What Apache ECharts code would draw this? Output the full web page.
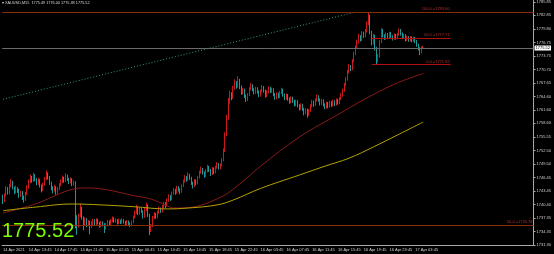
<!DOCTYPE html>
<html><head><meta charset="utf-8">
<script src="https://cdn.jsdelivr.net/npm/echarts@6/dist/echarts.min.js"></script>
<style>html,body{margin:0;padding:0;background:#000;}#c{width:554px;height:254px;}</style>
</head><body><div id="c"></div>
<script>
const symbolName = 'XAUUSD,M15';
const timeLabels = ['14 Apr 2021','14 Apr 13:45','14 Apr 17:45','14 Apr 21:45','15 Apr 02:45','15 Apr 06:45','15 Apr 10:45','15 Apr 14:45','15 Apr 18:45','15 Apr 22:45','16 Apr 03:45','16 Apr 07:45','16 Apr 11:45','16 Apr 15:45','16 Apr 19:45','16 Apr 23:45','17 Apr 03:45'];
const barsPerLabel = 16;
const slotCount = 330;
const priceTicks = [1731.30,1734.35,1737.35,1740.40,1743.45,1746.45,1749.50,1752.50,1755.55,1758.60,1761.60,1764.60,1767.65,1770.70,1773.75,1776.75,1779.80,1782.85,1785.85];
const opens = [
1742.0,1741.2,1742.5,1743.8,1743.0,1744.6,1745.3,1744.1,1743.2,1744.0,
1743.5,1742.4,1743.1,1742.0,1741.5,1742.8,1744.2,1745.6,1746.4,1745.8,
1746.9,1746.0,1745.1,1745.9,1744.6,1743.7,1744.9,1746.2,1747.3,1746.5,
1745.2,1744.1,1743.6,1744.2,1743.1,1743.9,1744.8,1745.5,1746.3,1745.7,
1746.8,1746.1,1745.4,1746.0,1744.9,1745.3,1737.5,1735.6,1737.8,1739.6,
1737.4,1736.2,1737.0,1735.8,1736.4,1735.4,1736.1,1736.8,1736.0,1736.9,
1736.2,1735.6,1736.3,1735.9,1735.1,1735.8,1736.5,1736.0,1736.7,1737.3,
1736.6,1736.9,1736.2,1736.8,1736.3,1736.9,1736.4,1735.9,1736.5,1736.1,
1735.7,1736.4,1737.5,1738.6,1739.6,1738.4,1739.3,1738.9,1737.6,1739.2,
1740.1,1738.0,1734.8,1735.6,1737.4,1738.2,1737.6,1738.6,1739.4,1738.9,
1739.8,1740.6,1740.1,1741.3,1742.2,1741.6,1742.9,1743.6,1743.0,1744.2,
1743.7,1743.2,1744.5,1745.6,1746.5,1745.9,1747.0,1746.3,1745.2,1744.5,
1745.7,1745.1,1746.4,1747.6,1748.3,1747.5,1746.8,1747.9,1748.8,1748.1,
1747.2,1748.4,1747.6,1748.7,1749.4,1748.6,1749.2,1750.3,1752.5,1756.0,
1759.8,1763.6,1765.2,1764.4,1766.5,1767.8,1766.9,1768.3,1766.8,1765.4,
1766.1,1764.8,1763.9,1765.0,1766.3,1767.1,1766.2,1765.5,1766.4,1765.7,
1764.9,1765.8,1766.7,1765.9,1764.8,1765.6,1766.5,1765.8,1766.2,1765.1,
1764.3,1765.2,1764.6,1765.5,1766.1,1765.0,1764.2,1764.9,1764.1,1763.4,
1764.3,1763.6,1762.8,1763.5,1762.6,1761.9,1762.7,1761.8,1760.9,1761.6,
1760.6,1761.4,1762.5,1763.4,1762.7,1763.8,1764.6,1763.9,1763.0,1763.7,
1762.8,1762.2,1763.1,1762.4,1763.3,1762.7,1763.5,1762.9,1763.8,1763.2,
1764.1,1764.9,1766.0,1767.3,1768.5,1770.1,1771.4,1770.8,1772.6,1774.2,
1775.6,1776.8,1778.1,1777.4,1778.9,1778.2,1779.3,1781.0,1782.4,1779.0,
1776.6,1778.2,1775.5,1772.9,1773.6,1776.9,1779.5,1778.3,1777.7,1778.6,
1777.9,1778.8,1778.1,1777.6,1778.4,1777.8,1778.5,1779.6,1778.7,1777.9,
1778.3,1777.4,1777.9,1777.3,1777.8,1777.2,1777.7,1777.0,1776.2,1775.4,
1774.6,1775.49];
const closes = [
1741.2,1742.5,1743.8,1743.0,1744.6,1745.3,1744.1,1743.2,1744.0,1743.5,
1742.4,1743.1,1742.0,1741.5,1742.8,1744.2,1745.6,1746.4,1745.8,1746.9,
1746.0,1745.1,1745.9,1744.6,1743.7,1744.9,1746.2,1747.3,1746.5,1745.2,
1744.1,1743.6,1744.2,1743.1,1743.9,1744.8,1745.5,1746.3,1745.7,1746.8,
1746.1,1745.4,1746.0,1744.9,1745.3,1737.5,1735.6,1737.8,1739.6,1737.4,
1736.2,1737.0,1735.8,1736.4,1735.4,1736.1,1736.8,1736.0,1736.9,1736.2,
1735.6,1736.3,1735.9,1735.1,1735.8,1736.5,1736.0,1736.7,1737.3,1736.6,
1736.9,1736.2,1736.8,1736.3,1736.9,1736.4,1735.9,1736.5,1736.1,1735.7,
1736.4,1737.5,1738.6,1739.6,1738.4,1739.3,1738.9,1737.6,1739.2,1740.1,
1738.0,1734.8,1735.6,1737.4,1738.2,1737.6,1738.6,1739.4,1738.9,1739.8,
1740.6,1740.1,1741.3,1742.2,1741.6,1742.9,1743.6,1743.0,1744.2,1743.7,
1743.2,1744.5,1745.6,1746.5,1745.9,1747.0,1746.3,1745.2,1744.5,1745.7,
1745.1,1746.4,1747.6,1748.3,1747.5,1746.8,1747.9,1748.8,1748.1,1747.2,
1748.4,1747.6,1748.7,1749.4,1748.6,1749.2,1750.3,1752.5,1756.0,1759.8,
1763.6,1765.2,1764.4,1766.5,1767.8,1766.9,1768.3,1766.8,1765.4,1766.1,
1764.8,1763.9,1765.0,1766.3,1767.1,1766.2,1765.5,1766.4,1765.7,1764.9,
1765.8,1766.7,1765.9,1764.8,1765.6,1766.5,1765.8,1766.2,1765.1,1764.3,
1765.2,1764.6,1765.5,1766.1,1765.0,1764.2,1764.9,1764.1,1763.4,1764.3,
1763.6,1762.8,1763.5,1762.6,1761.9,1762.7,1761.8,1760.9,1761.6,1760.6,
1761.4,1762.5,1763.4,1762.7,1763.8,1764.6,1763.9,1763.0,1763.7,1762.8,
1762.2,1763.1,1762.4,1763.3,1762.7,1763.5,1762.9,1763.8,1763.2,1764.1,
1764.9,1766.0,1767.3,1768.5,1770.1,1771.4,1770.8,1772.6,1774.2,1775.6,
1776.8,1778.1,1777.4,1778.9,1778.2,1779.3,1781.0,1782.4,1779.0,1776.6,
1778.2,1775.5,1772.9,1773.6,1776.9,1779.5,1778.3,1777.7,1778.6,1777.9,
1778.8,1778.1,1777.6,1778.4,1777.8,1778.5,1779.6,1778.7,1777.9,1778.3,
1777.4,1777.9,1777.3,1777.8,1777.2,1777.7,1777.0,1776.2,1775.4,1774.6,
1775.49,1775.52];
const highs = [
1742.6,1742.9,1744.5,1744.3,1745.0,1746.1,1745.7,1744.4,1744.6,1744.3,
1743.9,1743.5,1743.4,1742.4,1743.2,1744.7,1746.0,1747.1,1746.8,1747.5,
1747.2,1746.3,1746.4,1746.1,1744.9,1745.3,1746.6,1748.0,1747.6,1746.8,
1745.5,1744.5,1744.8,1744.5,1744.3,1745.2,1746.0,1746.9,1746.6,1747.4,
1747.1,1746.4,1746.5,1746.3,1745.8,1745.6,1738.0,1738.3,1740.5,1739.9,
1737.7,1737.5,1737.3,1736.9,1736.7,1736.6,1737.2,1737.1,1737.3,1737.2,
1736.5,1736.7,1736.6,1736.2,1736.2,1736.9,1736.8,1737.1,1737.7,1737.5,
1737.3,1737.1,1737.2,1737.0,1737.3,1737.1,1736.7,1736.9,1736.8,1736.4,
1736.8,1737.9,1739.0,1740.3,1739.9,1739.7,1739.6,1739.1,1739.6,1740.8,
1740.4,1738.3,1736.0,1737.8,1738.7,1738.5,1739.0,1739.9,1739.7,1740.3,
1741.0,1740.9,1741.7,1742.7,1742.5,1743.3,1744.1,1743.9,1744.6,1744.5,
1744.0,1744.9,1746.0,1747.0,1746.8,1747.6,1747.3,1746.6,1745.5,1746.1,
1746.0,1746.8,1748.0,1748.9,1748.6,1747.8,1748.3,1749.3,1749.1,1748.4,
1748.8,1748.7,1749.1,1749.9,1749.7,1749.6,1750.8,1753.0,1756.6,1760.5,
1764.3,1765.9,1765.6,1767.0,1768.5,1768.1,1769.2,1768.6,1767.1,1766.6,
1766.4,1765.1,1765.4,1766.7,1767.7,1767.4,1766.5,1766.8,1766.7,1766.0,
1766.2,1767.2,1767.0,1766.2,1766.0,1766.9,1766.8,1766.6,1766.5,1765.4,
1765.6,1765.5,1765.9,1766.6,1766.4,1765.3,1765.3,1765.2,1764.4,1764.7,
1764.6,1763.9,1763.9,1763.8,1762.9,1763.1,1763.0,1762.1,1762.0,1761.9,
1761.8,1762.9,1763.9,1763.7,1764.2,1765.1,1764.9,1764.2,1764.1,1764.0,
1763.1,1763.5,1763.4,1763.7,1763.6,1763.9,1763.8,1764.2,1764.1,1764.5,
1765.4,1766.4,1767.7,1769.0,1770.6,1771.9,1771.7,1773.0,1774.7,1776.1,
1777.4,1778.7,1778.4,1779.3,1779.2,1779.8,1781.5,1783.6,1783.0,1779.4,
1778.7,1778.5,1775.8,1774.1,1777.3,1780.0,1779.8,1778.6,1779.0,1778.9,
1779.2,1779.1,1778.4,1778.8,1778.7,1778.9,1779.9,1779.8,1779.0,1778.7,
1778.6,1778.3,1778.2,1778.2,1778.1,1778.1,1778.0,1777.3,1776.5,1775.7,
1775.9,1776.00];
const lows = [
1740.5,1740.9,1742.2,1742.6,1742.7,1744.2,1743.8,1742.7,1742.9,1743.0,
1741.9,1742.1,1741.4,1740.8,1741.2,1742.5,1743.9,1745.2,1745.3,1745.5,
1745.6,1744.7,1744.8,1744.2,1743.1,1743.4,1744.6,1745.9,1746.0,1744.8,
1743.6,1742.9,1743.3,1742.6,1742.8,1743.6,1744.5,1745.2,1745.3,1745.4,
1745.7,1745.0,1745.1,1744.5,1744.6,1735.0,1733.6,1735.2,1737.5,1737.0,
1734.6,1735.8,1735.3,1735.5,1733.7,1735.1,1735.8,1735.6,1735.7,1735.9,
1735.2,1735.3,1735.5,1734.0,1734.8,1735.5,1735.7,1735.8,1736.4,1736.3,
1736.3,1735.9,1736.0,1736.0,1736.1,1736.1,1735.5,1735.7,1735.8,1735.3,
1735.5,1736.2,1737.3,1738.3,1738.0,1738.1,1738.5,1737.2,1737.4,1738.9,
1737.6,1733.5,1734.2,1735.3,1737.1,1737.2,1737.3,1738.3,1738.5,1738.6,
1739.5,1739.6,1739.9,1741.0,1741.2,1741.4,1742.6,1742.6,1742.8,1743.3,
1742.7,1743.0,1744.3,1745.3,1745.5,1745.7,1745.9,1744.8,1744.0,1744.3,
1744.7,1744.9,1746.2,1747.3,1747.1,1746.4,1746.6,1747.6,1747.7,1746.8,
1747.0,1747.2,1747.4,1748.4,1748.2,1748.3,1749.0,1750.1,1752.2,1755.7,
1759.4,1763.0,1763.8,1764.1,1766.2,1766.4,1766.6,1766.3,1765.0,1765.1,
1764.3,1763.4,1763.6,1764.7,1766.0,1765.8,1765.1,1765.2,1765.3,1764.5,
1764.6,1765.5,1765.5,1764.4,1764.5,1765.3,1765.4,1765.5,1764.7,1763.9,
1764.0,1764.2,1764.3,1765.2,1764.6,1763.8,1763.9,1763.7,1763.0,1763.1,
1763.2,1762.4,1762.5,1762.2,1761.5,1761.6,1761.4,1760.4,1760.6,1759.9,
1760.3,1761.2,1762.2,1762.3,1762.5,1763.5,1763.5,1762.6,1762.7,1762.4,
1761.8,1761.9,1762.0,1762.1,1762.3,1762.4,1762.5,1762.6,1762.8,1762.9,
1763.8,1764.6,1765.7,1767.0,1768.2,1769.8,1770.3,1770.5,1772.3,1773.9,
1775.3,1776.5,1777.0,1777.1,1777.8,1777.9,1779.0,1780.7,1778.6,1776.1,
1776.3,1775.0,1771.8,1772.3,1773.3,1776.6,1777.9,1777.3,1777.4,1777.5,
1777.6,1777.7,1777.2,1777.4,1777.4,1777.5,1778.3,1778.3,1777.5,1777.6,
1777.0,1777.1,1776.9,1777.0,1776.8,1776.9,1776.6,1775.8,1775.0,1773.9,
1774.3,1775.38];
const redMA = [[0,1738.5],[20,1740.5],[41,1743.6],[51,1744.1],[61,1743.9],[81,1742.4],[92,1741.6],[102,1740.1],[106,1739.6],[115,1739.7],[135,1742.0],[147,1745.0],[160,1749.0],[184,1755.5],[210,1761.0],[227,1764.5],[245,1767.7],[261,1769.8]];
const yellowMA = [[0,1739.0],[20,1739.8],[43,1740.5],[61,1740.3],[81,1739.9],[102,1739.4],[115,1739.6],[133,1740.3],[143,1741.4],[160,1744.0],[184,1747.0],[200,1749.0],[215,1750.8],[230,1753.3],[245,1756.0],[261,1758.9]];
const trendLine = [[0,1764.0],[219,1783.6]];
const fibNames = ['100.0','50.0','0.0'];
const fibValues = [1783.60,1777.71,1771.82];
const lowerFibName = '50.0';
const lowerFibValue = 1735.78;

const n = closes.length;
const cats = Array.from({length: slotCount}, (_, i) => (i % barsPerLabel === 0 && timeLabels[i / barsPerLabel]) ? timeLabels[i / barsPerLabel] : '');
const candles = opens.map((o, i) => [o, closes[i], lows[i], highs[i]]);
const last = closes[n - 1];
const header = '\u25BE ' + symbolName + '  ' + [opens[n-1], highs[n-1], lows[n-1], closes[n-1]].map(v => v.toFixed(2)).join(' ');
const fibStart = 229, fibEnd = 278;
const fibLabelColor = '#b03030';
const fibLabel = (name, v) => ({show: true, position: 'insideEndTop', distance: 1, formatter: name + ' =' + v.toFixed(2), color: fibLabelColor, fontSize: 4});

const chart = echarts.init(document.getElementById('c'));
chart.setOption({
  backgroundColor: '#000',
  animation: false,
  textStyle: {fontFamily: 'Liberation Sans, Arial, sans-serif'},
  title: [
    {text: header, left: 2, top: 1, padding: 0, textStyle: {color: '#d8d8d8', fontSize: 3.8, fontWeight: 'normal'}},
    {text: last.toFixed(2), left: 2, top: 221, padding: 0, textStyle: {color: '#7CFC00', fontSize: 20, fontWeight: 'normal'}}
  ],
  grid: {left: 0, right: 18, top: 0, bottom: 9},
  xAxis: {
    type: 'category', data: cats, boundaryGap: true,
    axisLine: {lineStyle: {color: '#a8a8a8'}},
    axisTick: {interval: (i, v) => v !== '', alignWithLabel: true, length: 2, lineStyle: {color: '#a8a8a8'}},
    axisLabel: {interval: (i, v) => v !== '', align: 'left', color: '#d0d0d0', fontSize: 4, margin: 3},
    splitLine: {show: false}
  },
  yAxis: {
    type: 'value', position: 'right', min: 1731.30, max: 1786.23,
    axisLine: {show: true, lineStyle: {color: '#a8a8a8'}},
    axisTick: {show: true, customValues: priceTicks, length: 2, lineStyle: {color: '#a8a8a8'}},
    axisLabel: {customValues: priceTicks, formatter: v => v.toFixed(2), color: '#d0d0d0', fontSize: 4, margin: 3},
    splitLine: {show: false}
  },
  series: [
    {
      type: 'candlestick', data: candles, barWidth: 1,
      itemStyle: {color: '#ff2020', color0: '#20c0c0', borderColor: '#ff2020', borderColor0: '#20c0c0', borderWidth: 0.8},
      markLine: {
        symbol: ['none', 'none'], silent: true, animation: false,
        data: [
          {yAxis: last, lineStyle: {color: '#6a6a6a', width: 1, type: 'solid'},
           label: {show: true, position: 'end', distance: 1, formatter: last.toFixed(2), backgroundColor: '#fff', color: '#000', fontSize: 4, padding: [1, 1, 0, 1]}},
          {yAxis: fibValues[0], lineStyle: {color: '#8a2c0c', width: 1, type: 'solid'}, label: {show: false}},
          {yAxis: lowerFibValue, lineStyle: {color: '#8a2c0c', width: 1, type: 'solid'}, label: fibLabel(lowerFibName, lowerFibValue)},
          [{coord: [fibStart, fibValues[0]], lineStyle: {color: 'rgba(0,0,0,0)', width: 1, type: 'solid'}, label: fibLabel(fibNames[0], fibValues[0])}, {coord: [fibEnd, fibValues[0]]}],
          [{coord: [fibStart, fibValues[1]], lineStyle: {color: '#b01010', width: 1, type: 'solid'}, label: fibLabel(fibNames[1], fibValues[1])}, {coord: [fibEnd, fibValues[1]]}],
          [{coord: [fibStart, fibValues[2]], lineStyle: {color: '#b01010', width: 1, type: 'solid'}, label: fibLabel(fibNames[2], fibValues[2])}, {coord: [fibEnd, fibValues[2]]}]
        ]
      }
    },
    {type: 'line', data: redMA, showSymbol: false, smooth: 0.4, lineStyle: {color: '#8b1a1a', width: 1}, silent: true},
    {type: 'line', data: yellowMA, showSymbol: false, smooth: 0.4, lineStyle: {color: '#b5a300', width: 1}, silent: true},
    {type: 'line', data: trendLine, showSymbol: false, lineStyle: {color: '#36a06a', width: 1, type: [1, 2]}, silent: true}
  ]
});
</script>
</body></html>
